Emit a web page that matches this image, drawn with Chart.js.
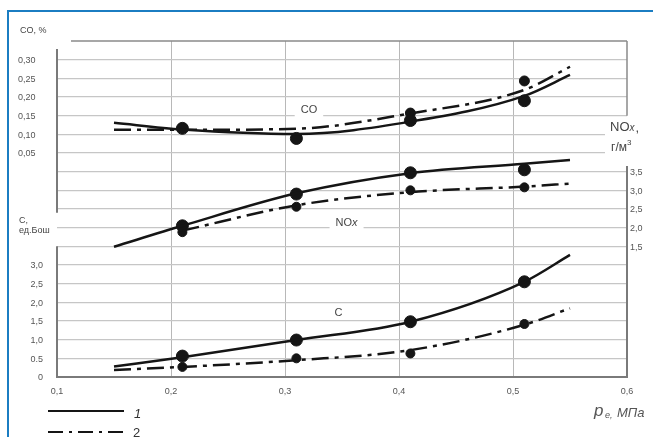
<!DOCTYPE html>
<html>
<head>
<meta charset="utf-8">
<script src="https://cdn.jsdelivr.net/npm/chart.js@4.4.0/dist/chart.umd.min.js"></script>
<style>
  html, body { margin: 0; padding: 0; background: #fff; overflow: hidden; }
  #frame { position: fixed; left: 7px; top: 10px; right: 0; bottom: 0; border-left: 2px solid #1b7dc2; border-top: 2px solid #1b7dc2; }
  #wrap { position: absolute; left: 0; top: 0; width: 653px; height: 437px; }
</style>
</head>
<body>
<div id="frame"></div>
<div id="wrap"><canvas id="myChart" width="653" height="437"></canvas></div>
<script>
// fitted curves, p_e in MPa
const pressure = [0.15, 0.21, 0.31, 0.41, 0.51, 0.55];
const coCurve1 = [0.131, 0.113, 0.101, 0.134, 0.203, 0.259];
const coCurve2 = [0.112, 0.112, 0.115, 0.156, 0.219, 0.281];
const noxCurve1 = [1.49, 2.05, 2.92, 3.46, 3.71, 3.81];
const noxCurve2 = [null, 1.92, 2.6, 2.95, 3.1, 3.18];
const cCurve1 = [0.28, 0.53, 0.99, 1.48, 2.55, 3.27];
const cCurve2 = [0.19, 0.27, 0.45, 0.72, 1.40, 1.84];

// measured points
const pointX = [0.21, 0.31, 0.41, 0.51];
const coPoints1 = [0.116, 0.089, 0.137, 0.19];
const coPoints2 = [null, null, 0.157, 0.243];
const noxPoints1 = [2.05, 2.9, 3.47, 3.55];
const noxPoints2 = [1.88, 2.56, 3.0, 3.08];
const cPoints1 = [0.56, 0.99, 1.48, 2.55];
const cPoints2 = [0.27, 0.5, 0.63, 1.42];

// tick labels
const xTicks = ['0,1', '0,2', '0,3', '0,4', '0,5', '0,6'];
const coTicks = ['0,05', '0,10', '0,15', '0,20', '0,25', '0,30'];
const noxTicks = ['1,5', '2,0', '2,5', '3,0', '3,5'];
const cTicks = ['0', '0.5', '1,0', '1,5', '2,0', '2,5', '3,0'];

const INK = '#151515';
const DASH = [17, 6, 4, 6];
const FONT = '"Liberation Sans", Arial, sans-serif';
Chart.defaults.font.family = FONT;

const pairs = (xs, ys) => xs.map((x, i) => ({x: x, y: ys[i]})).filter(p => p.y !== null);

function curve(ys, axis, dashed) {
    return {
        type: 'line',
        data: pairs(pressure, ys),
        yAxisID: axis,
        borderColor: INK,
        borderWidth: 2.5,
        borderDash: dashed ? DASH : [],
        pointRadius: 0,
        cubicInterpolationMode: 'monotone',
        fill: false
    };
}

function dots(ys, axis, radius) {
    return {
        type: 'scatter',
        data: pairs(pointX, ys),
        yAxisID: axis,
        backgroundColor: INK,
        borderColor: INK,
        pointRadius: radius,
        pointHoverRadius: radius
    };
}

const pick = (list, idx) => (idx >= 0 && idx < list.length) ? list[idx] : '';

// left axis carries both the C scale (bottom) and the CO scale (top);
function leftLabel(v, chart) {
    if (v <= 3.01) return pick(cTicks, Math.round(v / 0.5));
    const yC = chart.scales.yC, yCO = chart.scales.yCO;
    if (!yC || !yCO) return '';
    const co = yCO.getValueForPixel(yC.getPixelForValue(v));
    const s = pick(coTicks, Math.round(co / 0.05) - 1);
    return s ? s + '   ' : '';
}

// extra lines and texts
const decor = {
    id: 'decor',
    beforeDatasetsDraw(chart) {
        const {ctx} = chart;
        const sx = chart.scales.x, yc = chart.scales.yC;
        ctx.save();
        ctx.textBaseline = 'middle';
        ctx.font = '11px ' + FONT;
        const label = (parts, xv, yv) => {
            let w = 0;
            parts.forEach(p => { ctx.font = p[1] + ' 11px ' + FONT; w += ctx.measureText(p[0]).width; });
            const x0 = sx.getPixelForValue(xv) - w / 2, y0 = yc.getPixelForValue(yv);
            ctx.fillStyle = '#fff';
            ctx.fillRect(x0 - 6, y0 - 7, w + 12, 14);
            ctx.fillStyle = '#444';
            ctx.textAlign = 'left';
            let x = x0;
            parts.forEach(p => { ctx.font = p[1] + ' 11px ' + FONT; ctx.fillText(p[0], x, y0); x += ctx.measureText(p[0]).width; });
        };
        label([['CO', 'normal']], 0.321, 7.15);
        label([['NO', 'normal'], ['x', 'italic']], 0.354, 4.13);
        label([['C', 'normal']], 0.347, 1.72);
        ctx.restore();
    },
    afterDraw(chart) {
        const {ctx, chartArea: a} = chart;
        const yc = chart.scales.yC, yn = chart.scales.yNOx;
        const seg = (x1, y1, x2, y2) => { ctx.beginPath(); ctx.moveTo(x1, y1); ctx.lineTo(x2, y2); ctx.stroke(); };
        ctx.save();
        // room for the NOx title on the right edge
        ctx.fillStyle = '#fff';
        ctx.fillRect(a.right - 22, yn.getPixelForValue(4.85), 60, 42);

        // plot frame, broken where the axis titles sit
        ctx.strokeStyle = '#8a8a8a';
        ctx.lineWidth = 1.5;
        seg(a.left + 14, a.top, a.right, a.top);
        seg(a.right, a.top, a.right, yn.getPixelForValue(5.0));
        ctx.strokeStyle = '#7a7a7a';
        ctx.lineWidth = 2;
        seg(a.left, a.top + 8, a.left, yc.getPixelForValue(4.4));
        seg(a.left, yc.getPixelForValue(3.5), a.left, a.bottom);
        seg(a.right, yn.getPixelForValue(3.65), a.right, a.bottom + 1);
        seg(a.left - 1, a.bottom, a.right + 1, a.bottom);

        // axis titles
        ctx.fillStyle = '#444';
        ctx.textBaseline = 'middle';
        ctx.textAlign = 'left';
        ctx.font = '9px ' + FONT;
        ctx.fillText('CO, %', 20, 31);
        ctx.fillText('C,', 19, 221);
        ctx.fillText('ед.Бош', 19, 231);

        ctx.font = '13px ' + FONT;
        ctx.fillText('NO', 610, 127);
        let w = ctx.measureText('NO').width;
        ctx.font = 'italic 10px ' + FONT;
        ctx.fillText('x', 610 + w, 128);
        w += ctx.measureText('x').width;
        ctx.font = '13px ' + FONT;
        ctx.fillText(',', 610 + w + 1, 128);
        ctx.font = '12px ' + FONT;
        ctx.fillText('г/м', 611, 148);
        w = ctx.measureText('г/м').width;
        ctx.font = '8px ' + FONT;
        ctx.fillText('3', 611 + w, 143);

        ctx.fillStyle = '#555';
        ctx.font = 'italic 17px ' + FONT;
        ctx.fillText('p', 594, 411);
        ctx.font = 'italic 9px ' + FONT;
        ctx.fillText('e,', 605, 415);
        ctx.font = 'italic 13px ' + FONT;
        ctx.fillText('МПа', 617, 413);

        // legend
        ctx.strokeStyle = INK;
        ctx.lineWidth = 2.2;
        seg(48, 411, 124, 411);
        ctx.setLineDash([15, 6, 3, 6]);
        seg(48, 432, 126, 432);
        ctx.setLineDash([]);
        ctx.fillStyle = '#333';
        ctx.font = 'italic 13px ' + FONT;
        ctx.fillText('1', 134, 414);
        ctx.font = '13px ' + FONT;
        ctx.fillText('2', 133, 433);
        ctx.restore();
    }
};

const data = {
    datasets: [
        curve(coCurve1, 'yCO', false),
        curve(coCurve2, 'yCO', true),
        curve(noxCurve1, 'yNOx', false),
        curve(noxCurve2, 'yNOx', true),
        curve(cCurve1, 'yC', false),
        curve(cCurve2, 'yC', true),
        dots(coPoints1, 'yCO', 6),
        dots(coPoints2, 'yCO', 5),
        dots(noxPoints1, 'yNOx', 6),
        dots(noxPoints2, 'yNOx', 4.5),
        dots(cPoints1, 'yC', 6),
        dots(cPoints2, 'yC', 4.5)
    ]
};

const tickFont = {size: 9};
let myChart;

const config = {
    data,
    options: {
        responsive: false,
        animation: false,
        events: [],
        layout: {padding: {top: 41, left: 0, right: 0, bottom: 0}},
        plugins: {legend: {display: false}, tooltip: {enabled: false}},
        scales: {
            x: {
                type: 'linear',
                min: 0.1,
                max: 0.6,
                ticks: {
                    stepSize: 0.1,
                    font: tickFont,
                    color: '#555',
                    padding: 9,
                    callback: v => pick(xTicks, Math.round((v - 0.1) / 0.1))
                },
                grid: {
                    drawTicks: false,
                    lineWidth: 1,
                    color: c => {
                        const v = c.tick ? c.tick.value : 0;
                        return (Math.abs(v - 0.1) < 1e-6 || Math.abs(v - 0.6) < 1e-6) ? 'rgba(0,0,0,0)' : '#b8b8b8';
                    }
                },
                border: {display: false},
                afterFit: s => { s.height = 60; }
            },
            yCO: {
                display: false,
                position: 'left',
                min: -0.55,
                max: 0.35
            },
            yC: {
                position: 'left',
                min: 0,
                max: 9,
                ticks: {
                    stepSize: 0.5,
                    font: tickFont,
                    color: '#555',
                    padding: 14,
                    labelOffset: 1,
                    callback: function (v) { return leftLabel(v, this.chart); }
                },
                grid: {
                    drawTicks: false,
                    lineWidth: 1.3,
                    color: c => (c.tick && c.tick.value > 8.9) ? 'rgba(0,0,0,0)' : '#c6c6c6'
                },
                border: {display: false},
                afterFit: s => { s.width = 57; }
            },
            yNOx: {
                position: 'right',
                min: -2,
                max: 7,
                ticks: {
                    stepSize: 0.5,
                    font: tickFont,
                    color: '#555',
                    padding: 3,
                    labelOffset: 1,
                    callback: v => pick(noxTicks, Math.round((v - 1.5) / 0.5))
                },
                grid: {display: false, drawTicks: false},
                border: {display: false},
                afterFit: s => { s.width = 26; }
            }
        }
    },
    plugins: [decor]
};

myChart = new Chart(document.getElementById('myChart'), config);
</script>
</body>
</html>
